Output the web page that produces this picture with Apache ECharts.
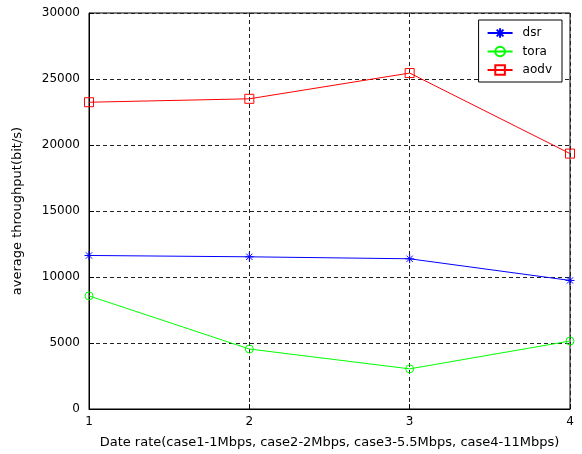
<!DOCTYPE html>
<html><head><meta charset="utf-8">
<script src="https://cdn.jsdelivr.net/npm/echarts@6/dist/echarts.min.js"></script>
<style>html,body{margin:0;padding:0;background:#fff}#c{width:582px;height:454px}</style>
</head><body><div id="c"></div>
<script>
const xValues = [1, 2, 3, 4];
const dsr = [11630, 11530, 11380, 9740];
const tora = [8570, 4545, 3040, 5150];
const aodv = [23240, 23500, 25450, 19350];
const yTicks = [0, 5000, 10000, 15000, 20000, 25000, 30000];

const font = 'DejaVu Sans, Verdana, sans-serif';
const star = 'path://M0,-5L0,5M-5,0L5,0M-3.5,-3.5L3.5,3.5M-3.5,3.5L3.5,-3.5';
const ring = 'path://M10,0A10,10,0,1,1,-10,0A10,10,0,1,1,10,0Z';
const square = 'path://M0,0L10,0L10,10L0,10Z';
const pair = arr => xValues.map((x, i) => [x, arr[i]]);

const chart = echarts.init(document.getElementById('c'));
const axisCommon = {
  axisLine: {show: true, onZero: false, lineStyle: {color: '#000', width: 1}},
  axisTick: {show: true, inside: true, length: 5, lineStyle: {color: '#000'}},
  axisLabel: {color: '#000', fontFamily: font, fontSize: 12, formatter: v => String(v)},
  splitLine: {show: true, lineStyle: {color: '#222', type: [4, 3], width: 1}},
  nameTextStyle: {color: '#000', fontFamily: font, fontSize: 13}
};
chart.setOption({
  animation: false,
  grid: {left: 89, right: 12, top: 13, bottom: 43, show: true, borderColor: '#000', borderWidth: 1},
  legend: {
    right: 20, top: 20, orient: 'vertical', itemGap: 6.5, itemWidth: 25, itemHeight: 12,
    backgroundColor: '#fff', borderColor: '#000', borderWidth: 1, padding: [7, 10, 6, 8],
    textStyle: {fontFamily: font, fontSize: 12, color: '#000', padding: [0, 0, 0, 5]},
    data: ['dsr', 'tora', 'aodv']
  },
  xAxis: Object.assign({}, axisCommon, {
    type: 'value', min: 1, max: 4, interval: 1,
    name: 'Date rate(case1-1Mbps, case2-2Mbps, case3-5.5Mbps, case4-11Mbps)',
    nameLocation: 'middle', nameGap: 27,
    axisLabel: Object.assign({}, axisCommon.axisLabel, {margin: 7})
  }),
  yAxis: Object.assign({}, axisCommon, {
    type: 'value', min: yTicks[0], max: yTicks[yTicks.length - 1], interval: 5000,
    name: 'average throughput(bit/s)', nameLocation: 'middle', nameGap: 65,
    axisLabel: Object.assign({}, axisCommon.axisLabel, {margin: 9})
  }),
  series: [
    {name: 'dsr', type: 'line', data: pair(dsr), symbol: star, symbolSize: 9,
     lineStyle: {color: '#0000ff', width: 1}, itemStyle: {color: '#0000ff', borderColor: '#0000ff', borderWidth: 1}},
    {name: 'tora', type: 'line', data: pair(tora), symbol: ring, symbolSize: 8,
     lineStyle: {color: '#00ff00', width: 1}, itemStyle: {color: 'rgba(0,0,0,0)', borderColor: '#00ff00', borderWidth: 1}},
    {name: 'aodv', type: 'line', data: pair(aodv), symbol: square, symbolSize: 9,
     lineStyle: {color: '#ff0000', width: 1}, itemStyle: {color: 'rgba(0,0,0,0)', borderColor: '#ff0000', borderWidth: 1}}
  ]
});
</script></body></html>
